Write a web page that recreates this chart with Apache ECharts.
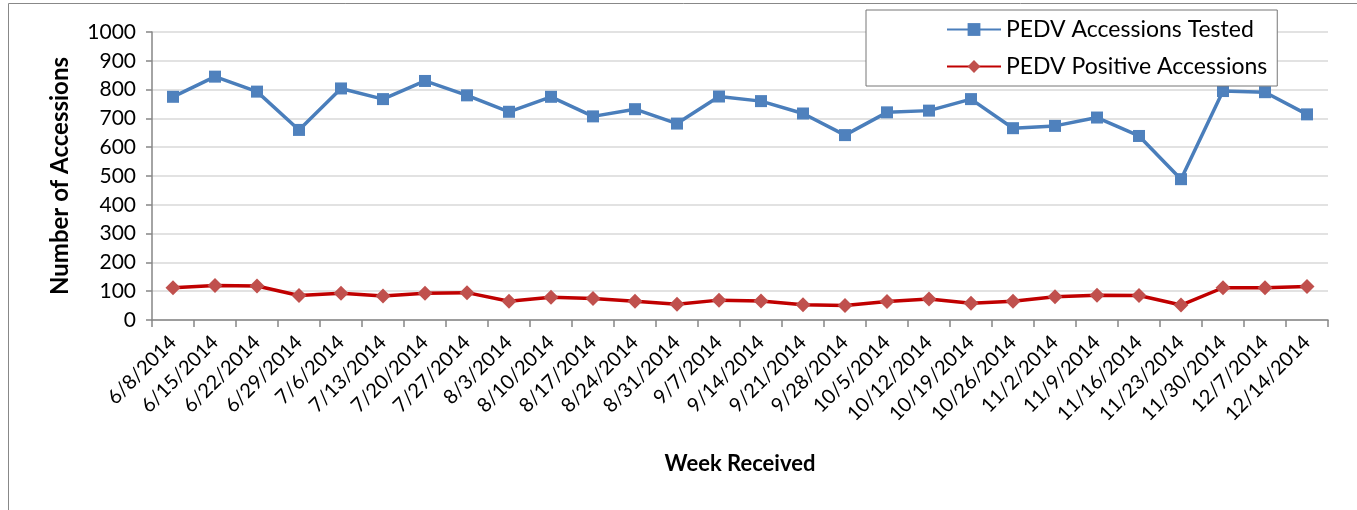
<!DOCTYPE html>
<html><head><meta charset="utf-8">
<script src="https://cdn.jsdelivr.net/npm/echarts@6/dist/echarts.min.js"></script>
<style>html,body{margin:0;padding:0;background:#fff}#c{width:1357px;height:510px}</style>
</head><body><div id="c"></div>
<script>
const weeks = ['6/8/2014','6/15/2014','6/22/2014','6/29/2014','7/6/2014','7/13/2014','7/20/2014','7/27/2014','8/3/2014','8/10/2014','8/17/2014','8/24/2014','8/31/2014','9/7/2014','9/14/2014','9/21/2014','9/28/2014','10/5/2014','10/12/2014','10/19/2014','10/26/2014','11/2/2014','11/9/2014','11/16/2014','11/23/2014','11/30/2014','12/7/2014','12/14/2014'];
const tested = [775,845,793,660,804,767,830,780,723,775,707,732,682,776,760,717,642,721,727,767,666,674,703,639,489,795,791,714];
const positive = [112,120,118,85,93,83,93,95,65,79,75,65,55,69,66,53,50,64,73,58,65,81,86,85,52,112,112,116];
const yTicks = {min:0, max:1000, interval:100};
const FONT = 'Lato';

const chart = echarts.init(document.getElementById('c'), null, {renderer:'canvas'});
chart.setOption({
  animation:false,
  textStyle:{fontFamily:FONT},
  graphic:[{type:'rect', shape:{x:8.5,y:3.5,width:1400,height:600}, style:{fill:'none',stroke:'#888',lineWidth:1}, z:-1}],
  grid:{left:152,right:29,top:32,bottom:190,containLabel:false},
  legend:{
    orient:'vertical', left:866, top:10, width:486, height:75,
    padding:[8,10,8,80], itemGap:14, itemWidth:54, itemHeight:16,
    borderColor:'#777', borderWidth:1, backgroundColor:'#fff',
    textStyle:{fontFamily:FONT,fontSize:23,color:'#000'},
    data:['PEDV Accessions Tested','PEDV Positive Accessions']
  },
  xAxis:{
    type:'category', data:weeks, boundaryGap:true,
    name:'Week Received', nameLocation:'middle', nameGap:133,
    nameTextStyle:{fontFamily:FONT,fontSize:22,fontWeight:'bold',color:'#000'},
    axisLine:{lineStyle:{color:'#868686',width:1.5}},
    axisTick:{show:true,length:7,alignWithLabel:false,lineStyle:{color:'#868686',width:1.5}},
    axisLabel:{rotate:45,interval:0,margin:19,fontFamily:FONT,fontSize:20,color:'#000'}
  },
  yAxis:{
    type:'value', min:yTicks.min, max:yTicks.max, interval:yTicks.interval,
    name:'Number of Accessions', nameLocation:'middle', nameGap:80, nameRotate:90,
    nameTextStyle:{fontFamily:FONT,fontSize:24,fontWeight:'bold',color:'#000'},
    axisLine:{show:true,lineStyle:{color:'#868686',width:1.5}},
    axisTick:{show:true,length:6,lineStyle:{color:'#868686',width:1.5}},
    axisLabel:{margin:16,fontFamily:FONT,fontSize:21,color:'#000',formatter:v=>String(v)},
    splitLine:{lineStyle:{color:'#d9d9d9',width:1.5}}
  },
  series:[
    {name:'PEDV Accessions Tested', type:'line', data:tested, symbol:'rect', symbolSize:12,
     lineStyle:{color:'#4a7ebb',width:3.5}, itemStyle:{color:'#4f81bd'}, z:3},
    {name:'PEDV Positive Accessions', type:'line', data:positive, symbol:'diamond', symbolSize:15,
     lineStyle:{color:'#c00000',width:3.5}, itemStyle:{color:'#c0504d'}, z:4}
  ]
});
</script></body></html>
